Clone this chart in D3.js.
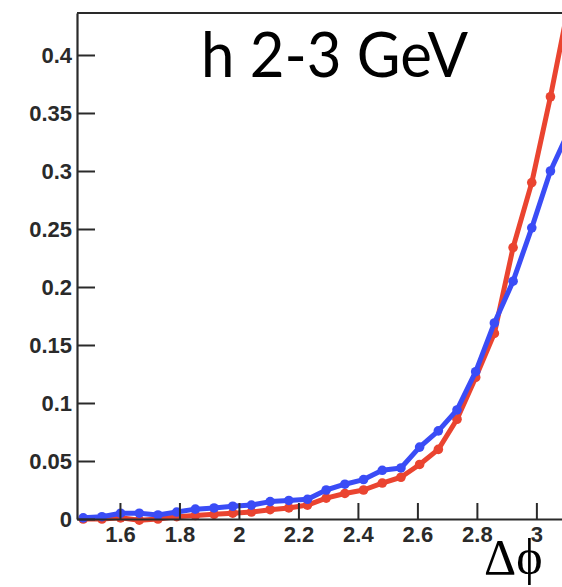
<!DOCTYPE html>
<html>
<head>
<meta charset="utf-8">
<script src="https://cdn.jsdelivr.net/npm/d3@7"></script>
<style>
  html, body { margin: 0; padding: 0; background: #fff; }
  svg { display: block; }
</style>
</head>
<body>
<script>
// Δφ bin centres (width π/50)
const binCenters = [1.4765, 1.5394, 1.6022, 1.6650, 1.7279, 1.7907, 1.8535, 1.9164,
  1.9792, 2.0420, 2.1049, 2.1677, 2.2305, 2.2934, 2.3562, 2.4190, 2.4819, 2.5447,
  2.6075, 2.6704, 2.7332, 2.7960, 2.8588, 2.9217, 2.9845, 3.0473, 3.1102];

// red series
const redValues = [0.000, 0.000, 0.001, -0.001, 0.000, 0.002, 0.003, 0.004,
  0.005, 0.006, 0.008, 0.0095, 0.012, 0.018, 0.022, 0.025, 0.031, 0.036,
  0.047, 0.060, 0.086, 0.122, 0.160, 0.234, 0.290, 0.364, 0.445];

// blue series
const blueValues = [0.001, 0.002, 0.005, 0.005, 0.0035, 0.006, 0.0085, 0.0095,
  0.011, 0.012, 0.015, 0.016, 0.017, 0.025, 0.030, 0.034, 0.042, 0.044,
  0.062, 0.076, 0.094, 0.127, 0.169, 0.205, 0.251, 0.300, 0.335];

const xTickValues = [1.6, 1.8, 2.0, 2.2, 2.4, 2.6, 2.8, 3.0];
const xTickLabels = ["1.6", "1.8", "2", "2.2", "2.4", "2.6", "2.8", "3"];
const yTickValues = [0, 0.05, 0.1, 0.15, 0.2, 0.25, 0.3, 0.35, 0.4];
const yTickLabels = ["0", "0.05", "0.1", "0.15", "0.2", "0.25", "0.3", "0.35", "0.4"];

const titleText = "h 2-3 GeV";
const xAxisTitle = "Δϕ";

const W = 562, H = 587;
const frame = { left: 77, right: 578.5, top: 13, bottom: 519 };
const xDomain = [1.4556, Math.PI];
const yDomain = [0, 0.4362];

const x = d3.scaleLinear().domain(xDomain).range([frame.left, frame.right]);
const y = d3.scaleLinear().domain(yDomain).range([frame.bottom, frame.top]);

const svg = d3.select("body").append("svg").attr("width", W).attr("height", H);

const axisColor = "#2a2a2a";
const labelFont = "'Liberation Sans', Arial, sans-serif";

// minor ticks every 0.01 (y) and 0.05 (x)
const yMinor = d3.range(0, 0.4361, 0.01).map(v => +v.toFixed(3));
const xMinor = d3.range(1.5, 3.1001, 0.05).map(v => +v.toFixed(3));

// Data curves (clipped to the frame)
svg.append("defs").append("clipPath").attr("id", "frameClip")
  .append("rect")
  .attr("x", frame.left).attr("y", frame.top)
  .attr("width", frame.right - frame.left + 20)
  .attr("height", frame.bottom - frame.top + 6);

const plot = svg.append("g").attr("clip-path", "url(#frameClip)");

const line = d3.line().x(d => x(d[0])).y(d => y(d[1]));

function drawSeries(values, color) {
  const pts = binCenters.map((c, i) => [c, values[i]]);
  plot.append("path")
    .datum(pts)
    .attr("fill", "none")
    .attr("stroke", color)
    .attr("stroke-width", 5)
    .attr("stroke-linejoin", "round")
    .attr("d", line);
  plot.selectAll(null)
    .data(pts)
    .enter().append("circle")
    .attr("cx", d => x(d[0]))
    .attr("cy", d => y(d[1]))
    .attr("r", 4.8)
    .attr("fill", color);
}

drawSeries(redValues, "#ea4430");
drawSeries(blueValues, "#3a4cf6");

// Axes
const gy = svg.append("g").attr("transform", `translate(${frame.left},0)`);
gy.call(d3.axisLeft(y).tickValues(yMinor).tickSize(-9).tickSizeOuter(0).tickFormat(""));
gy.call(d3.axisLeft(y).tickValues(yTickValues).tickSize(-18).tickSizeOuter(0)
  .tickPadding(5).tickFormat((d, i) => yTickLabels[i]));

const gx = svg.append("g").attr("transform", `translate(0,${frame.bottom})`);
gx.call(d3.axisBottom(x).tickValues(xMinor).tickSize(-9).tickSizeOuter(0).tickFormat(""));
gx.call(d3.axisBottom(x).tickValues(xTickValues).tickSize(-16).tickSizeOuter(0)
  .tickPadding(7).tickFormat((d, i) => xTickLabels[i]));

[gx, gy].forEach(g => {
  g.selectAll("path.domain").attr("stroke", axisColor).attr("stroke-width", 2.2);
  g.selectAll(".tick line").attr("stroke", axisColor).attr("stroke-width", 2);
  g.selectAll(".tick text")
    .attr("fill", "#2a2a2a")
    .style("font-family", labelFont)
    .style("font-weight", "bold")
    .style("font-size", "22px");
});
gx.selectAll(".tick text").attr("dy", "0.71em");

// top and right frame edges
svg.append("line")
  .attr("x1", frame.left).attr("x2", frame.right)
  .attr("y1", frame.top).attr("y2", frame.top)
  .attr("stroke", axisColor).attr("stroke-width", 2.2);
svg.append("line")
  .attr("x1", frame.right).attr("x2", frame.right)
  .attr("y1", frame.top).attr("y2", frame.bottom)
  .attr("stroke", axisColor).attr("stroke-width", 2.2);

// Title
svg.append("text")
  .attr("x", 201).attr("y", 77)
  .attr("fill", "#000")
  .attr("textLength", 267)
  .attr("lengthAdjust", "spacingAndGlyphs")
  .style("font-family", "Lato, 'Open Sans', sans-serif")
  .style("font-size", "61px")
  .text(titleText);

// x-axis title
svg.append("text")
  .attr("x", 484).attr("y", 574)
  .attr("fill", "#000")
  .style("font-family", "'Liberation Serif', 'DejaVu Serif', serif")
  .style("font-size", "50px")
  .text(xAxisTitle);
</script>
</body>
</html>
